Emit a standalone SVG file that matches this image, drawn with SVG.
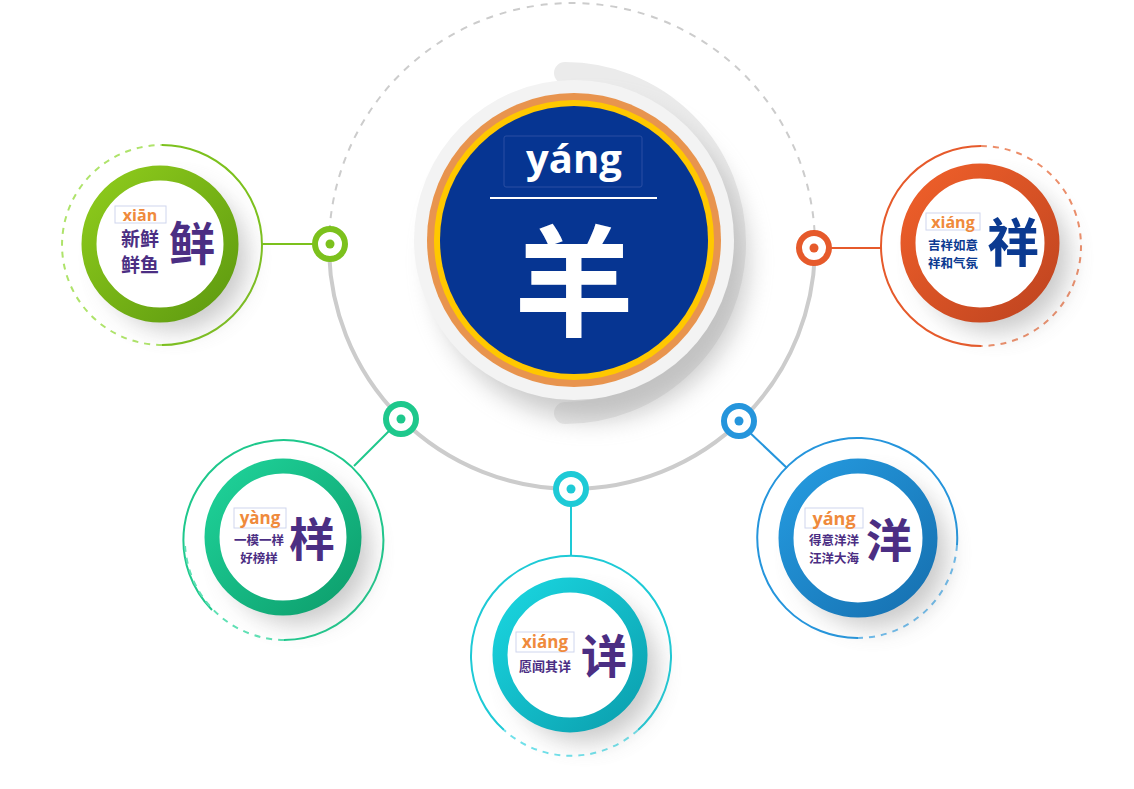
<svg xmlns="http://www.w3.org/2000/svg" width="1134" height="789" viewBox="0 0 1134 789">
<style>
.cjk{font-family:"Noto Sans CJK SC","Noto Sans",sans-serif;font-weight:bold}
.py{font-family:"Open Sans","Noto Sans",sans-serif;font-weight:bold;fill:#ef8a3c}
.pbox{fill:none;stroke:#cfd6ee;stroke-width:1}
.pur{fill:#4b2e83}
.thin{fill:none;stroke-width:2}
.dash{fill:none;stroke-width:2;stroke-dasharray:6 6}
</style>
<defs>
<filter id="sh" x="-50%" y="-50%" width="200%" height="200%"><feGaussianBlur stdDeviation="12"/></filter>
<linearGradient id="gG" x1="0" y1="0" x2="1" y2="1"><stop offset="0" stop-color="#8fcc1c"/><stop offset="1" stop-color="#5e9a10"/></linearGradient>
<linearGradient id="gO" x1="0" y1="0" x2="1" y2="1"><stop offset="0" stop-color="#f0602a"/><stop offset="1" stop-color="#bf4420"/></linearGradient>
<linearGradient id="gT" x1="0" y1="0" x2="1" y2="1"><stop offset="0" stop-color="#1fd39a"/><stop offset="1" stop-color="#0d9e6c"/></linearGradient>
<linearGradient id="gC" x1="0" y1="0" x2="1" y2="1"><stop offset="0" stop-color="#1ad6e0"/><stop offset="1" stop-color="#0b9fae"/></linearGradient>
<linearGradient id="gB" x1="0" y1="0" x2="1" y2="1"><stop offset="0" stop-color="#259be0"/><stop offset="1" stop-color="#1670b0"/></linearGradient>
</defs>
<rect width="1134" height="789" fill="#fff"/>

<g id="connectors">
<path d="M329,246 A243,243 0 0 1 815,246" fill="none" stroke="#cccccc" stroke-width="2" stroke-dasharray="7 7"/>
<path d="M329,246 A243,243 0 0 0 815,246" fill="none" stroke="#cccccc" stroke-width="4"/>
<path d="M565,73 A170,170 0 0 1 565,413" fill="none" stroke="#ebebeb" stroke-width="22" stroke-linecap="round"/>
<line x1="262" y1="244" x2="318" y2="244" stroke="#7cc11d" stroke-width="2"/>
<line x1="826" y1="248" x2="881" y2="248" stroke="#e65a2b" stroke-width="2"/>
<line x1="392" y1="428" x2="354" y2="466" stroke="#1ec88c" stroke-width="2"/>
<line x1="571" y1="501" x2="571" y2="555" stroke="#1ecad6" stroke-width="2"/>
<line x1="747" y1="430" x2="787" y2="468" stroke="#2595dc" stroke-width="2"/>
<g fill="#fff" stroke-width="6">
<circle cx="330" cy="244" r="15" stroke="#7cc11d"/><circle cx="330" cy="244" r="4.5" fill="#7cc11d" stroke="none"/>
<circle cx="814" cy="248" r="15" stroke="#e65a2b"/><circle cx="814" cy="248" r="4.5" fill="#e65a2b" stroke="none"/>
<circle cx="401" cy="419" r="15" stroke="#1ec88c"/><circle cx="401" cy="419" r="4.5" fill="#1ec88c" stroke="none"/>
<circle cx="571" cy="489" r="15" stroke="#1ecad6"/><circle cx="571" cy="489" r="4.5" fill="#1ecad6" stroke="none"/>
<circle cx="739" cy="421" r="15" stroke="#2595dc"/><circle cx="739" cy="421" r="4.5" fill="#2595dc" stroke="none"/>
</g>
</g>

<g id="center">
<circle cx="590" cy="262" r="158" fill="#999" opacity="0.5" filter="url(#sh)"/>
<circle cx="574" cy="240" r="160" fill="#f3f3f3"/>
<circle cx="574" cy="240" r="147" fill="#e8944e"/>
<circle cx="574" cy="240" r="140" fill="#ffc800"/>
<circle cx="574" cy="240" r="134" fill="#063592"/>
<rect x="504" y="136" width="138" height="51" rx="2" fill="none" stroke="#2a4fa3" stroke-width="1"/>
<text x="574" y="173" text-anchor="middle" font-family="'Open Sans','Noto Sans',sans-serif" font-weight="bold" font-size="40" fill="#fff">yáng</text>
<line x1="490" y1="198" x2="657" y2="198" stroke="#fff" stroke-width="2"/>
<text x="574" y="327" text-anchor="middle" class="cjk" font-size="120" fill="#fff">羊</text>
</g>

<g id="node-xian">
<path d="M162,145 A100,100 0 0 1 162,345" class="thin" stroke="#7cc11d"/>
<path d="M162,345 A100,100 0 0 1 162,145" class="dash" stroke="#aee36a"/>
<circle cx="175" cy="258" r="72" fill="#888" opacity="0.45" filter="url(#sh)"/>
<circle cx="160" cy="244" r="71" fill="#fff" stroke="url(#gG)" stroke-width="15"/>
<rect x="115" y="206" width="51" height="17" class="pbox"/>
<text x="140" y="221" text-anchor="middle" class="py" font-size="16">xiān</text>
<text x="140" y="246" text-anchor="middle" class="cjk pur" font-size="19">新鲜</text>
<text x="140" y="272" text-anchor="middle" class="cjk pur" font-size="19">鲜鱼</text>
<text x="192" y="260" text-anchor="middle" class="cjk pur" font-size="46">鲜</text>
</g>

<g id="node-xiang1">
<path d="M981,346 A100,100 0 0 1 981,146" class="thin" stroke="#e65a2b"/>
<path d="M981,146 A100,100 0 0 1 981,346" class="dash" stroke="#ec8e6a"/>
<circle cx="995" cy="258" r="74" fill="#888" opacity="0.45" filter="url(#sh)"/>
<circle cx="980" cy="243" r="72" fill="#fff" stroke="url(#gO)" stroke-width="15"/>
<rect x="926" y="213" width="54" height="17" class="pbox"/>
<text x="953" y="228" text-anchor="middle" class="py" font-size="16">xiáng</text>
<text x="953" y="250" text-anchor="middle" class="cjk" font-size="12.5" fill="#0b3a91">吉祥如意</text>
<text x="953" y="268" text-anchor="middle" class="cjk" font-size="12.5" fill="#0b3a91">祥和气氛</text>
<text x="1013" y="262" text-anchor="middle" class="cjk" font-size="52" fill="#0b3a91">祥</text>
</g>

<g id="node-yang1">
<path d="M212,610 A100,100 0 1 1 284,640" class="thin" stroke="#1ec88c"/>
<path d="M284,640 A100,100 0 0 1 185,545" class="dash" stroke="#5fe0b4"/>
<circle cx="298" cy="552" r="72" fill="#888" opacity="0.45" filter="url(#sh)"/>
<circle cx="283" cy="537" r="71" fill="#fff" stroke="url(#gT)" stroke-width="15"/>
<rect x="234" y="508" width="52" height="20" class="pbox"/>
<text x="260" y="524" text-anchor="middle" class="py" font-size="17">yàng</text>
<text x="259" y="545" text-anchor="middle" class="cjk pur" font-size="12.5">一模一样</text>
<text x="259" y="563" text-anchor="middle" class="cjk pur" font-size="12.5">好榜样</text>
<text x="312" y="556" text-anchor="middle" class="cjk pur" font-size="46">样</text>
</g>

<g id="node-xiang2">
<path d="M504,730 A100,100 0 1 1 638,730" class="thin" stroke="#1ecad6"/>
<path d="M638,730 A100,100 0 0 1 504,730" class="dash" stroke="#6fe0ea"/>
<circle cx="585" cy="670" r="72" fill="#888" opacity="0.45" filter="url(#sh)"/>
<circle cx="570" cy="655" r="70" fill="#fff" stroke="url(#gC)" stroke-width="15"/>
<rect x="516" y="632" width="58" height="20" class="pbox"/>
<text x="545" y="648" text-anchor="middle" class="py" font-size="17">xiáng</text>
<text x="545" y="671" text-anchor="middle" class="cjk pur" font-size="13">愿闻其详</text>
<text x="604" y="673" text-anchor="middle" class="cjk pur" font-size="46">详</text>
</g>

<g id="node-yang2">
<path d="M858,638 A100,100 0 1 1 957,545" class="thin" stroke="#2595dc"/>
<path d="M957,545 A100,100 0 0 1 858,638" class="dash" stroke="#6cbcee"/>
<circle cx="873" cy="553" r="74" fill="#888" opacity="0.45" filter="url(#sh)"/>
<circle cx="858" cy="538" r="72" fill="#fff" stroke="url(#gB)" stroke-width="15"/>
<rect x="805" y="508" width="58" height="20" class="pbox"/>
<text x="834" y="525" text-anchor="middle" class="py" font-size="18">yáng</text>
<text x="834" y="545" text-anchor="middle" class="cjk pur" font-size="12.5">得意洋洋</text>
<text x="834" y="563" text-anchor="middle" class="cjk pur" font-size="12.5">汪洋大海</text>
<text x="889" y="557" text-anchor="middle" class="cjk pur" font-size="46">洋</text>
</g>
</svg>
